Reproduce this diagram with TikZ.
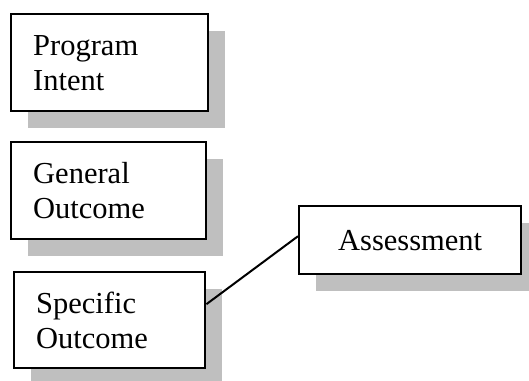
\documentclass[tikz,border=0pt]{standalone}
\usepackage{fontspec}
\setmainfont{Liberation Serif}
\usetikzlibrary{shadows}

\tikzset{
  box/.style={draw=black,line width=1.2pt,fill=white,anchor=north west,
    inner xsep=11pt,inner ysep=0pt,align=left,
    font=\fontsize{15.25}{17.5}\selectfont,
    general shadow={fill=black!25,shadow xshift=8.5pt,shadow yshift=-8.5pt}},
}

\begin{document}
\begin{tikzpicture}[x=0.5pt,y=-0.5pt]

  \useasboundingbox (0,0) rectangle (529,380);

  \node [box,text width=76.5pt,minimum height=48.5pt] at (10,13) (intent) {Program\\Intent};
  \node [box,text width=75.5pt,minimum height=48.5pt] at (10,141) (general) {General\\Outcome};
  \node [box,text width=73.5pt,minimum height=48pt] at (13,271) (specific) {Specific\\Outcome};
  \node [box,align=center,inner xsep=0pt,minimum width=111pt,minimum height=34pt] at (298,205) (assess) {Assessment};

  % link from specific outcome to assessment
  \draw [line width=1pt] ([yshift=8pt]specific.east) -- ([yshift=2pt]assess.west);

\end{tikzpicture}
\end{document}
